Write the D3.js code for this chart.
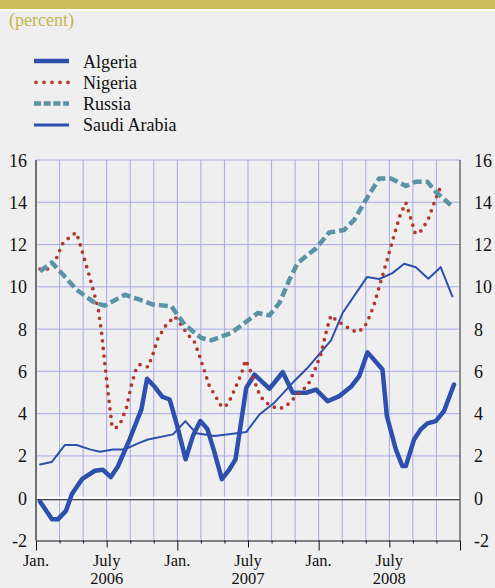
<!DOCTYPE html>
<html>
<head>
<meta charset="utf-8">
<script src="https://cdn.jsdelivr.net/npm/d3@7"></script>
<style>
  body { margin: 0; background: #efefef; }
  #chart { width: 495px; height: 588px; }
  text { font-family: "Liberation Serif", "Times New Roman", serif; font-size: 18px; fill: #111; }
  text.xlab { font-size: 16.5px; }
</style>
</head>
<body>
<div id="chart"></div>
<script>
// values: [months since Jan. 2006, percent]
const algeria = [[0.34,-0.15],[1.36,-1.0],[1.86,-1.0],[2.54,-0.6],[3.05,0.2],[3.9,0.9],[5.0,1.3],[5.67,1.35],
  [6.35,1.0],[6.95,1.5],[7.96,2.8],[8.95,4.2],[9.43,5.65],[10.08,5.27],[10.73,4.8],[11.35,4.67],[12.0,3.4],
  [12.7,1.84],[13.32,2.94],[13.95,3.65],[14.54,3.29],[15.16,2.16],[15.78,0.9],[16.43,1.37],[16.94,1.84],
  [17.85,5.22],[18.55,5.85],[19.82,5.18],[20.95,5.96],[21.8,4.99],[22.93,4.99],[23.78,5.14],[24.76,4.59],
  [25.75,4.83],[26.74,5.27],[27.44,5.77],[28.15,6.9],[29.42,6.09],[29.79,3.89],[30.55,2.31],[31.11,1.52],
  [31.4,1.52],[32.1,2.78],[32.67,3.26],[33.23,3.54],[33.94,3.65],[34.64,4.12],[35.49,5.38]];

const nigeria = [[0.34,10.84],[1.04,10.85],[1.52,11.08],[2.31,12.1],[2.82,12.33],[3.39,12.57],[3.62,12.25],
  [4.01,11.51],[4.57,10.44],[5.28,8.97],[5.56,7.87],[5.99,5.62],[6.46,3.38],[6.78,3.32],[7.2,3.6],[7.68,4.28],
  [8.11,5.38],[8.53,6.17],[8.81,6.32],[9.51,6.21],[9.94,6.84],[10.36,7.58],[11.07,8.21],[11.77,8.6],[12.2,8.29],
  [12.9,7.74],[13.47,7.38],[13.89,6.72],[14.31,6.01],[14.74,5.27],[15.16,4.91],[15.78,4.31],[16.29,4.44],
  [16.86,5.14],[17.42,5.85],[17.79,6.53],[18.07,6.21],[18.55,5.54],[19.03,4.83],[19.54,4.52],[20.1,4.33],
  [20.67,4.23],[21.24,4.36],[21.74,4.64],[22.22,4.91],[22.7,5.14],[23.15,5.43],[23.72,6.13],[24.2,6.84],
  [24.5,7.56],[24.84,8.29],[25.05,8.65],[25.52,8.41],[26.09,8.21],[26.68,8.0],[27.25,7.85],[27.81,8.04],
  [28.15,8.37],[28.66,9.08],[29.22,10.15],[29.79,11.23],[30.35,12.33],[30.92,13.4],[31.4,13.98],[31.82,13.25],
  [32.19,12.54],[32.55,12.54],[32.89,12.82],[33.29,13.17],[33.74,13.87],[34.22,14.58],[34.73,14.77]];

const russia = [[0.34,10.73],[1.33,11.15],[2.31,10.57],[3.45,9.86],[5.0,9.24],[5.84,9.11],[7.54,9.63],
  [8.81,9.39],[9.94,9.16],[11.49,9.08],[12.62,8.21],[14.04,7.58],[14.88,7.47],[16.58,7.82],[17.7,8.29],
  [18.83,8.76],[19.82,8.65],[20.67,9.24],[21.51,10.33],[22.22,11.12],[23.78,11.83],[24.9,12.57],[26.17,12.69],
  [27.02,13.17],[28.01,14.11],[29.14,15.13],[30.13,15.13],[31.4,14.77],[32.25,14.97],[33.23,14.97],
  [33.94,14.5],[35.21,13.87]];

const saudi = [[0.34,1.6],[1.33,1.71],[2.46,2.52],[3.45,2.52],[4.57,2.31],[5.42,2.2],[6.55,2.31],[7.54,2.31],
  [8.81,2.63],[9.51,2.78],[11.63,3.02],[12.68,3.65],[13.61,3.07],[15.16,2.94],[16.71,3.05],[17.85,3.13],
  [18.97,3.96],[20.24,4.52],[21.79,5.46],[23.06,6.17],[25.05,7.47],[26.03,8.76],[28.1,10.46],[29.14,10.37],
  [30.26,10.65],[31.26,11.09],[32.25,10.93],[33.31,10.38],[34.36,10.93],[35.35,9.55]];

const yTicks = [-2, 0, 2, 4, 6, 8, 10, 12, 14, 16];
const monthTicks = d3.range(0, 37, 2);
const monthLabels = [[0, "Jan."], [6, "July"], [12, "Jan."], [18, "July"], [24, "Jan."], [30, "July"]];
const yearLabels = [[6, "2006"], [18, "2007"], [30, "2008"]];

const series = [
  {name: "Algeria", data: algeria, color: "#2d4fad", width: 4.5, dash: null, cap: "round"},
  {name: "Nigeria", data: nigeria, color: "#b3382b", width: 3.7, dash: "0,7.6", cap: "round"},
  {name: "Russia", data: russia, color: "#5b93a6", width: 4.5, dash: "9,4", cap: "butt"},
  {name: "Saudi Arabia", data: saudi, color: "#2d4fad", width: 2, dash: null, cap: "round"}
];

const width = 495, height = 588;
const margin = {top: 160, left: 36, right: 35, bottom: 48};

const svg = d3.select("#chart")
    .append("svg")
    .attr("width", width)
    .attr("height", height);

// header band
svg.append("rect").attr("x", 0).attr("y", 0).attr("width", width).attr("height", 9).attr("fill", "#ccbe5c");
svg.append("rect").attr("x", 0).attr("y", 9).attr("width", width).attr("height", 2).attr("fill", "#ffffff");

svg.append("text")
    .attr("x", 9)
    .attr("y", 26)
    .style("fill", "#c6b54c")
    .text("(percent)");

// Scales
const xScale = d3.scaleLinear()
    .domain([0, 36])
    .range([margin.left, width - margin.right]);

const yScale = d3.scaleLinear()
    .domain([-2, 16])
    .range([height - margin.bottom + 0.5, margin.top]);

// gridlines
svg.append("g")
    .selectAll("line")
    .data(yTicks.filter(d => d > -2 && d !== 0))
    .enter()
    .append("line")
        .attr("x1", xScale(0)).attr("x2", xScale(36))
        .attr("y1", d => yScale(d)).attr("y2", d => yScale(d))
        .attr("stroke", "#a7a9e6").attr("stroke-width", 1);

svg.append("g")
    .selectAll("line")
    .data(monthTicks.filter(d => d > 0 && d < 36))
    .enter()
    .append("line")
        .attr("x1", d => xScale(d)).attr("x2", d => xScale(d))
        .attr("y1", yScale(16)).attr("y2", yScale(-2))
        .attr("stroke", "#a7a9e6").attr("stroke-width", 1);

// zero line
svg.append("line")
    .attr("x1", xScale(0)).attr("x2", xScale(36))
    .attr("y1", yScale(0) - 0.3).attr("y2", yScale(0) - 0.3)
    .attr("stroke", "#ffffff").attr("stroke-width", 2.4);
svg.append("line")
    .attr("x1", xScale(0)).attr("x2", xScale(36))
    .attr("y1", yScale(0) + 1.5).attr("y2", yScale(0) + 1.5)
    .attr("stroke", "#111").attr("stroke-width", 1);

// Axes
const xAxis = svg.append("g")
    .attr("transform", `translate(0,${yScale(-2)})`)
    .call(d3.axisBottom(xScale).tickValues(monthTicks).tickFormat("").tickSizeOuter(0));
xAxis.select(".domain").attr("stroke", "#111");
xAxis.selectAll(".tick line")
    .attr("stroke", "#111")
    .attr("y2", d => d % 12 === 0 ? 10 : (d % 6 === 0 ? 7 : 3));

svg.append("line")
    .attr("x1", xScale(0)).attr("x2", xScale(0))
    .attr("y1", yScale(16)).attr("y2", yScale(-2))
    .attr("stroke", "#707070").attr("stroke-width", 2);
svg.append("line")
    .attr("x1", xScale(36)).attr("x2", xScale(36))
    .attr("y1", yScale(16)).attr("y2", yScale(-2))
    .attr("stroke", "#555").attr("stroke-width", 1.3);

svg.append("g")
    .selectAll("text")
    .data(yTicks)
    .enter()
    .append("text")
        .attr("x", 27)
        .attr("y", d => yScale(d) + 6.5)
        .attr("text-anchor", "end")
        .text(d => d);

svg.append("g")
    .selectAll("text")
    .data(yTicks)
    .enter()
    .append("text")
        .attr("x", 474)
        .attr("y", d => yScale(d) + 6.5)
        .text(d => d);

svg.append("g")
    .selectAll("text")
    .data(monthLabels)
    .enter()
    .append("text")
        .attr("class", "xlab")
        .attr("x", d => xScale(d[0]))
        .attr("y", 566)
        .attr("text-anchor", "middle")
        .text(d => d[1]);

svg.append("g")
    .selectAll("text")
    .data(yearLabels)
    .enter()
    .append("text")
        .attr("class", "xlab")
        .attr("x", d => xScale(d[0]))
        .attr("y", 584.3)
        .attr("text-anchor", "middle")
        .text(d => d[1]);

// Lines
const line = d3.line()
    .x(d => xScale(d[0]))
    .y(d => yScale(d[1]));

const drawOrder = [series[3], series[0], series[1], series[2]];
svg.append("g")
    .selectAll("path")
    .data(drawOrder)
    .enter()
    .append("path")
        .attr("d", d => line(d.data))
        .attr("fill", "none")
        .attr("stroke", d => d.color)
        .attr("stroke-width", d => d.width)
        .attr("stroke-dasharray", d => d.dash)
        .attr("stroke-linecap", d => d.cap)
        .attr("stroke-linejoin", "round");

// Legend
const legend = svg.append("g")
    .selectAll("g")
    .data(series)
    .enter()
    .append("g")
        .attr("transform", (d, i) => `translate(0,${61 + i * 21.3})`);

legend.append("line")
    .attr("x1", d => d.dash === "0,7.6" ? 36 : 34)
    .attr("x2", 69)
    .attr("stroke", d => d.color)
    .attr("stroke-width", d => d.width === 2 ? 3 : d.width)
    .attr("stroke-dasharray", d => d.dash === "9,4" ? "7,2.7" : (d.dash ? "0,8" : null))
    .attr("stroke-linecap", d => d.dash === "0,7.6" ? "round" : "butt");

legend.append("text")
    .attr("x", 83)
    .attr("y", 6.5)
    .text(d => d.name);
</script>
</body>
</html>
